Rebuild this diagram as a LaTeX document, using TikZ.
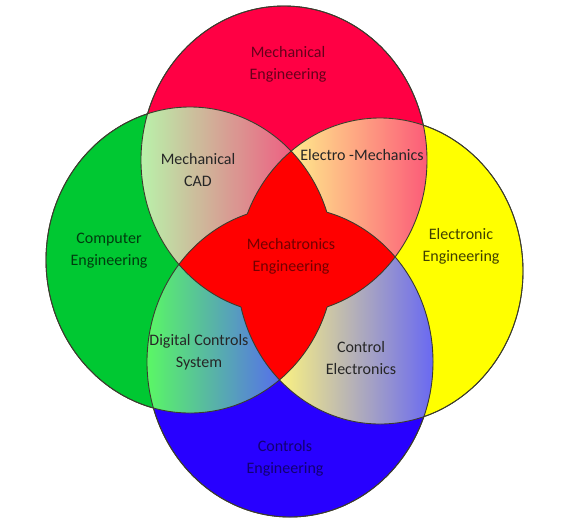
\documentclass[tikz,border=0pt]{standalone}
\usepackage{fontspec}
\setmainfont{Carlito}
\usetikzlibrary{shadings}

\definecolor{mechred}{RGB}{255,0,68}
\definecolor{compgreen}{RGB}{0,200,50}
\definecolor{elecyellow}{RGB}{255,255,0}
\definecolor{ctrlblue}{RGB}{40,0,255}
\definecolor{coreRed}{RGB}{255,0,0}
\definecolor{edgegray}{RGB}{60,60,45}

% the four discipline ellipses
\def\topE{(284,160) ellipse [x radius=143, y radius=154]}
\def\leftE{(190,260) ellipse [x radius=144, y radius=153]}
\def\rightE{(380,271) ellipse [x radius=143, y radius=153]}
\def\botE{(290,362) ellipse [x radius=143, y radius=155]}

\tikzset{
  area/.style={font=\fontsize{9.1}{12.5}\selectfont, align=center, inner sep=1pt},
  rim/.style={draw=edgegray, line width=0.5pt}
}

\begin{document}
\begin{tikzpicture}[x=0.02cm,y=-0.02cm]
        \useasboundingbox (0,0) rectangle (574,529);

        % fill the ellipses
        \fill[mechred] \topE;
        \fill[compgreen] \leftE;
        \fill[elecyellow] \rightE;
        \fill[ctrlblue] \botE;

        % shaded overlaps of neighbours
        \begin{scope}
          \clip \topE; \clip \leftE;
          \shade[left color={rgb,255:red,185;green,242;blue,170},
                 right color={rgb,255:red,238;green,95;blue,130}] (141,100) rectangle (292,270);
        \end{scope}
        \begin{scope}
          \clip \topE; \clip \rightE;
          \shade[left color={rgb,255:red,255;green,238;blue,140},
                 middle color={rgb,255:red,255;green,170;blue,110},
                 right color={rgb,255:red,252;green,90;blue,120}] (288,110) rectangle (428,270);
        \end{scope}
        \begin{scope}
          \clip \leftE; \clip \botE;
          \shade[left color={rgb,255:red,90;green,248;blue,100},
                 middle color={rgb,255:red,95;green,185;blue,165},
                 right color={rgb,255:red,85;green,100;blue,245}] (146,250) rectangle (290,420);
        \end{scope}
        \begin{scope}
          \clip \rightE; \clip \botE;
          \shade[left color={rgb,255:red,250;green,242;blue,130},
                 middle color={rgb,255:red,178;green,172;blue,172},
                 right color={rgb,255:red,105;green,105;blue,242}] (280,250) rectangle (433,430);
        \end{scope}

        % the star in the middle
        \begin{scope}
          \clip \topE;
          \fill[coreRed] \botE;
        \end{scope}
        \begin{scope}
          \clip \leftE;
          \fill[coreRed] \rightE;
        \end{scope}

        % outlines, left out inside the star
        \foreach \e/\p in {\topE/\leftE, \topE/\rightE, \botE/\leftE, \botE/\rightE,
                           \leftE/\topE, \leftE/\botE, \rightE/\topE, \rightE/\botE}
        {
          \begin{scope}[even odd rule]
            \clip (-20,-20) rectangle (600,550) \p;
            \path[rim] \e;
          \end{scope}
        }

        % labels
        \node[area, text=mechred!40!black] (mecheng) at (288,64) {Mechanical\\Engineering};
        \node[area, text=black!85] (mechcad) at (198,170) {Mechanical\\CAD};
        \node[area, text=black!85] (electromech) at (362,155) {Electro -Mechanics};
        \node[area, text=compgreen!30!black] (compeng) at (109,251) {Computer\\Engineering};
        \node[area, text=coreRed!45!black] (mechatronics) at (291,256) {Mechatronics\\Engineering};
        \node[area, text=elecyellow!25!black] (eleceng) at (461,246) {Electronic\\Engineering};
        \node[area, text=black!85] (digctrl) at (199,352) {Digital Controls\\System};
        \node[area, text=black!85] (ctrlelec) at (361,358) {Control\\Electronics};
        \node[area, text=ctrlblue!45!black] (ctrleng) at (285,458) {Controls\\Engineering};
\end{tikzpicture}
\end{document}
